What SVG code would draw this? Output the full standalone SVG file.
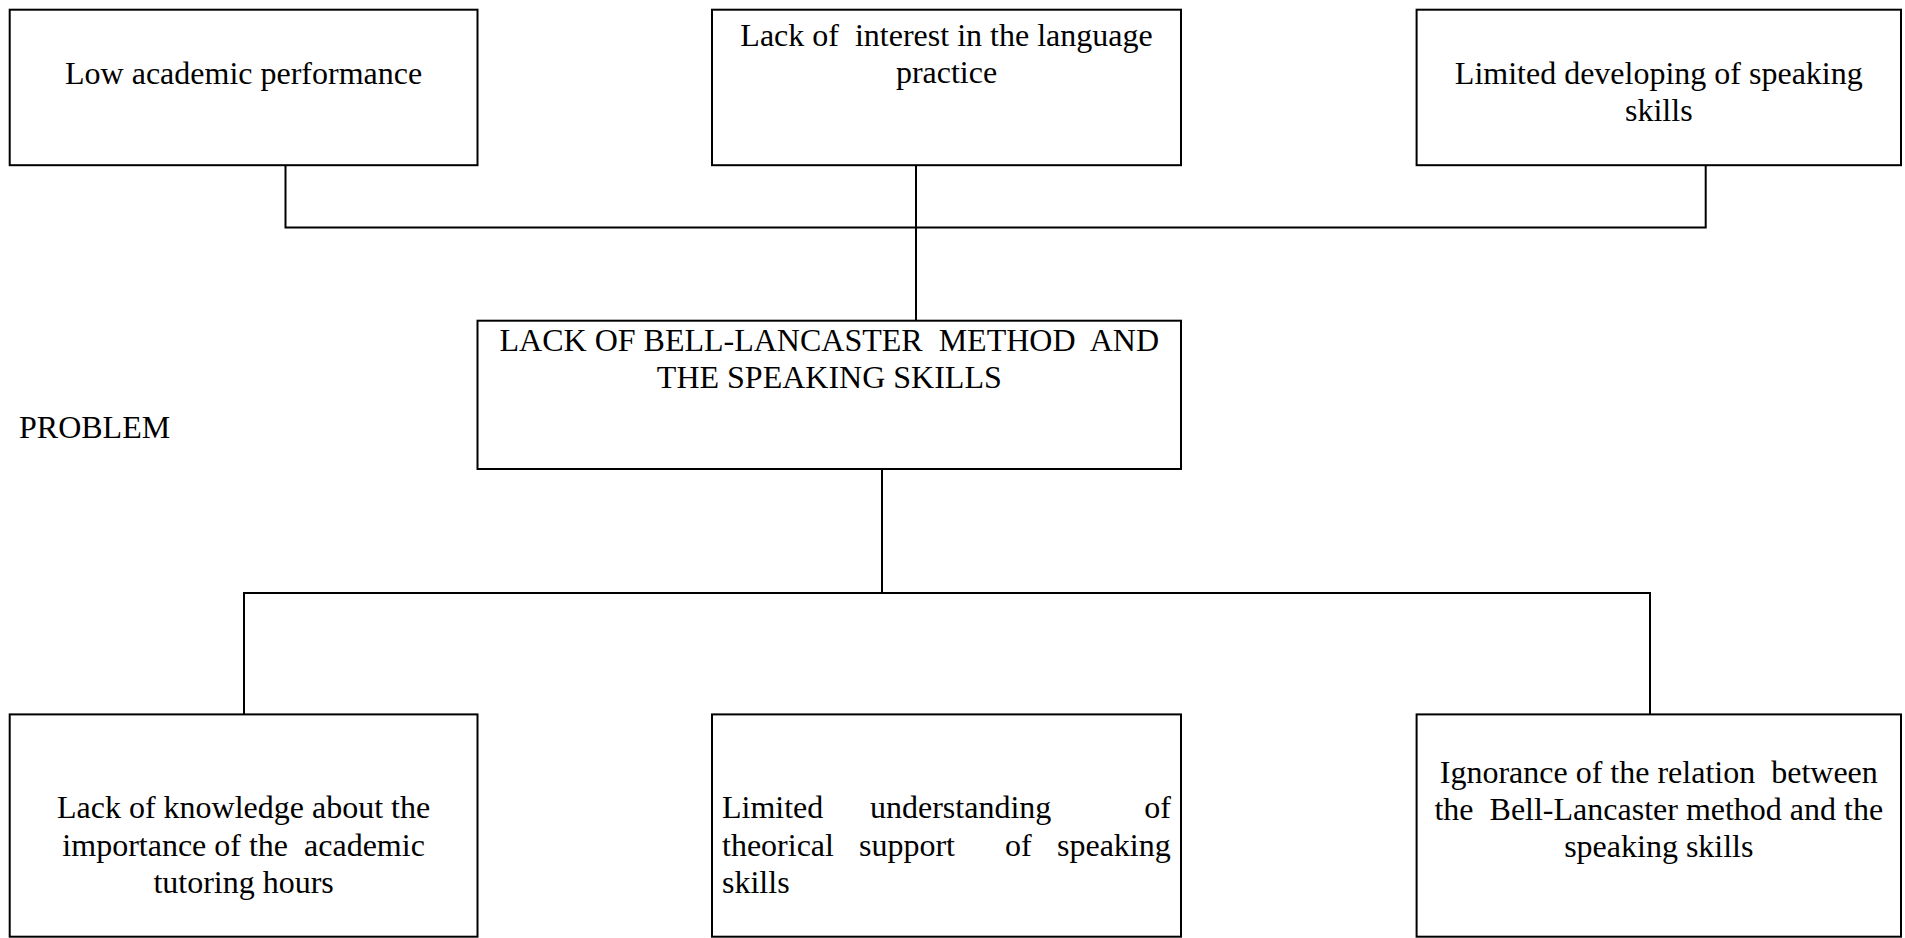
<svg xmlns="http://www.w3.org/2000/svg" width="1905" height="938" viewBox="0 0 1905 938">
<style>
.box{fill:#fff;stroke:#000;stroke-width:2}
.ln{fill:none;stroke:#000;stroke-width:2}
text{font-family:"Liberation Serif","Times New Roman",serif;font-size:32px;fill:#000}
.c{text-anchor:middle}
</style>
<rect width="1905" height="938" fill="#fff"/>
<g id="connectors">
<path class="ln" d="M285.5 165V227.5H1705.7V165M916 165V320.7"/>
<path class="ln" d="M882 469V593M244 714.4V593H1650V714.4"/>
</g>
<g id="n-low">
<rect class="box" x="9.7" y="9.7" width="467.8" height="155.5"/>
<text class="c" x="243.6" y="84">Low academic performance</text>
</g>
<g id="n-interest">
<rect class="box" x="712" y="9.7" width="469" height="155.5"/>
<text class="c" xml:space="preserve" x="946.5" y="46">Lack of  interest in the language</text>
<text class="c" x="946.5" y="83">practice</text>
</g>
<g id="n-limited">
<rect class="box" x="1416.6" y="9.7" width="484.4" height="155.5"/>
<text class="c" x="1658.8" y="84">Limited developing of speaking</text>
<text class="c" x="1658.8" y="121">skills</text>
</g>
<g id="n-problem">
<rect class="box" x="477.5" y="320.7" width="703.5" height="148.3"/>
<text class="c" xml:space="preserve" x="829.3" y="351">LACK OF BELL-LANCASTER  METHOD  AND</text>
<text class="c" x="829.3" y="388">THE SPEAKING SKILLS</text>
</g>
<g id="label-problem">
<text x="19" y="438">PROBLEM</text>
</g>
<g id="n-knowledge">
<rect class="box" x="9.7" y="714.4" width="467.8" height="222.3"/>
<text class="c" x="243.6" y="818">Lack of knowledge about the</text>
<text class="c" xml:space="preserve" x="243.6" y="855.5">importance of the  academic</text>
<text class="c" x="243.6" y="892.5">tutoring hours</text>
</g>
<g id="n-understanding">
<rect class="box" x="712" y="714.4" width="469" height="222.3"/>
<text y="818"><tspan x="722">Limited</tspan><tspan x="870">understanding</tspan><tspan x="1144.3">of</tspan></text>
<text y="855.5"><tspan x="722">theorical</tspan><tspan x="859">support</tspan><tspan x="1005">of</tspan><tspan x="1057">speaking</tspan></text>
<text x="722" y="892.5">skills</text>
</g>
<g id="n-ignorance">
<rect class="box" x="1416.6" y="714.4" width="484.4" height="222.3"/>
<text class="c" xml:space="preserve" x="1658.8" y="783">Ignorance of the relation  between</text>
<text class="c" xml:space="preserve" x="1658.8" y="820">the  Bell-Lancaster method and the</text>
<text class="c" x="1658.8" y="857">speaking skills</text>
</g>
</svg>
